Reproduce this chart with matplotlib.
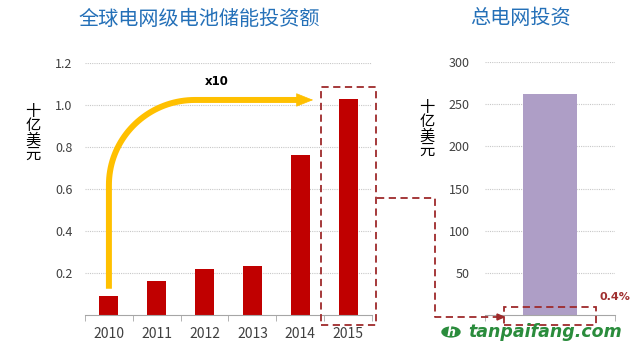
import numpy as np
import matplotlib
matplotlib.use("Agg")
import matplotlib.pyplot as plt
from matplotlib.lines import Line2D
from matplotlib.patches import Rectangle, Circle

plt.rcParams['font.family'] = ['Noto Sans CJK SC', 'DejaVu Sans']

# data
years = ['2010', '2011', '2012', '2013', '2014', '2015']
storage_invest = [0.09, 0.16, 0.218, 0.232, 0.76, 1.027]   # 十亿美元
grid_invest = [262]                                         # 十亿美元
share_label = '0.4%'
left_title = '全球电网级电池储能投资额'
right_title = '总电网投资'
unit_label = '十亿美元'

RED = '#C00000'
PURPLE = '#AE9EC6'
YELLOW = '#FFC000'
DASH_RED = '#9E2A2B'
BLUE = '#2470B8'
GRID = '#C8C8C8'
TICK = '#404040'

W, H = 640, 351
fig = plt.figure(figsize=(W / 100, H / 100), dpi=100)


def fx(px):
    return px / W


def fy(py):
    return 1 - py / H


def style_axes(ax, n):
    for s in ['top', 'right', 'left']:
        ax.spines[s].set_visible(False)
    ax.spines['bottom'].set_color('#A6A6A6')
    ax.set_xlim(-0.5, n - 0.5)
    ax.set_xticks(np.arange(-0.5, n), minor=True)
    ax.tick_params(axis='x', which='minor', length=4, color='#A6A6A6', direction='out')
    ax.tick_params(axis='x', which='major', length=0, pad=9, labelsize=10, labelcolor=TICK)
    ax.tick_params(axis='y', length=0, labelsize=9, labelcolor=TICK)
    ax.grid(axis='y', color=GRID, lw=0.8, ls=(0, (1, 1)))
    ax.set_axisbelow(True)


# left panel: battery storage investment
ax1 = fig.add_axes([fx(85), fy(315), 287 / W, 252 / H])
x = np.arange(len(years))
ax1.bar(x, storage_invest, width=0.4, color=RED, zorder=2)
style_axes(ax1, len(years))
ax1.set_ylim(0, 1.2)
ax1.set_yticks([0.2, 0.4, 0.6, 0.8, 1.0, 1.2])
ax1.set_yticklabels(['0.2', '0.4', '0.6', '0.8', '1.0', '1.2'])
ax1.tick_params(axis='y', pad=9)
ax1.set_xticks(x)
ax1.set_xticklabels(years)

# yellow growth arrow from 2010 bar to 2015 level
level = 1.024
rx, ry = 1.8, 0.405
y0 = storage_invest[0] + 0.035
k = 0.5523
t = np.linspace(0, 1, 40)[:, None]
p0 = np.array([0, level - ry])
p1 = np.array([0, level - ry + k * ry])
p2 = np.array([rx - k * rx, level])
p3 = np.array([rx, level])
arc = (1 - t) ** 3 * p0 + 3 * (1 - t) ** 2 * t * p1 + 3 * (1 - t) * t ** 2 * p2 + t ** 3 * p3
shaft_end = 3.95
tip = 4.27
xs = np.concatenate([[0], arc[:, 0], [shaft_end]])
ys = np.concatenate([[y0], arc[:, 1], [level]])
ax1.plot(xs, ys, color=YELLOW, lw=4.3, solid_capstyle='butt', zorder=3, clip_on=False)
ax1.annotate('', xy=(tip, level), xytext=(shaft_end - 0.05, level),
             arrowprops=dict(arrowstyle='-|>,head_length=0.75,head_width=0.3',
                             mutation_scale=15, fc=YELLOW, ec=YELLOW, lw=0.5,
                             shrinkA=0, shrinkB=0), zorder=3)
ax1.text(2.25, 1.11, 'x10', ha='center', va='center', fontsize=8.5,
         fontweight='bold', family='DejaVu Sans')

# dashed box round the 2015 bar
i_last = len(years) - 1
ax1.add_patch(Rectangle((i_last - 0.57, -0.048), 1.15, storage_invest[-1] + 0.058 + 0.048,
                        fill=False, ec=DASH_RED, lw=1.3, ls=(0, (4, 2.5)),
                        clip_on=False, zorder=4))

# right panel: total grid investment
ax2 = fig.add_axes([fx(485), fy(315), 130 / W, 253 / H])
ax2.bar([0], grid_invest, width=0.41, color=PURPLE, zorder=2)
style_axes(ax2, 1)
ax2.set_ylim(0, 300)
ax2.set_yticks([50, 100, 150, 200, 250, 300])
ax2.tick_params(axis='y', pad=11)
ax2.set_xticks([0])
ax2.set_xticklabels([''])
ax2.add_patch(Rectangle((-0.355, -12), 0.71, 21.5, fill=False, ec=DASH_RED, lw=1.3,
                        ls=(0, (4, 2.5)), clip_on=False, zorder=4))
ax2.text(0.5, 21, share_label, ha='center', va='center', fontsize=8,
         fontweight='bold', color='#A03030', family='DejaVu Sans')

# connector from big box to small box
fig.add_artist(Line2D([fx(377), fx(435), fx(435), fx(497)],
                      [fy(198), fy(198), fy(317), fy(317)],
                      transform=fig.transFigure, color=DASH_RED, lw=1.3,
                      ls=(0, (4, 2.5))))
fig.add_artist(Line2D([fx(497), fx(503)], [fy(317), fy(317)],
                      transform=fig.transFigure, color=DASH_RED, lw=1.3))
fig.patches.append(plt.Polygon([[fx(497), fy(314)], [fx(504), fy(317)], [fx(497), fy(320)]],
                               closed=True, transform=fig.transFigure, color=DASH_RED))

# titles and unit labels
fig.text(fx(199), fy(19), left_title, ha='center', va='center', fontsize=14.5, color=BLUE)
fig.text(fx(520), fy(19), right_title, ha='center', va='center', fontsize=14.5, color=BLUE)
stacked = '\n'.join(unit_label)
fig.text(fx(33), fy(133), stacked, ha='center', va='center', fontsize=11, linespacing=0.8)
fig.text(fx(427), fy(129), stacked, ha='center', va='center', fontsize=11, linespacing=0.8)

# watermark
fig.patches.append(Circle((fx(451), fy(332)), 9 / W, transform=fig.transFigure,
                          color='#2A8C3C'))
fig.text(fx(451), fy(332), 'h', ha='center', va='center', fontsize=9, color='white',
         fontweight='bold', style='italic', family='DejaVu Sans')
fig.text(fx(468), fy(332), 'tanpaifang.com', ha='left', va='center', fontsize=12.5,
         color='#2A8C3C', fontweight='bold', style='italic', family='DejaVu Sans')

fig.savefig('out.png', dpi=100)
